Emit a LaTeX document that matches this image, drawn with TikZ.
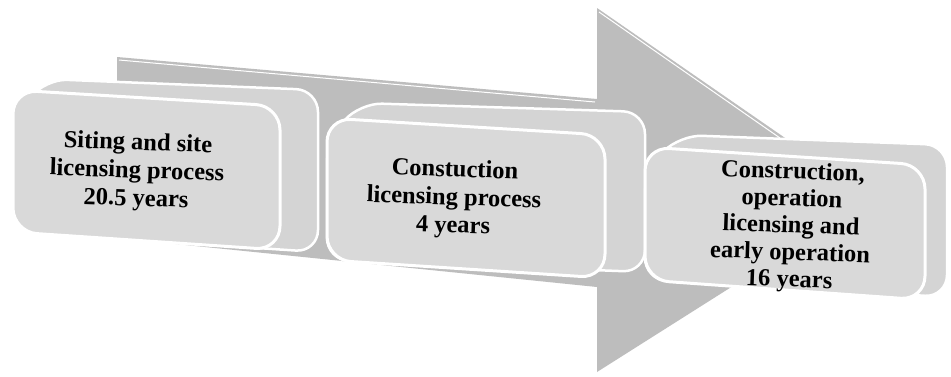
\documentclass[tikz,border=0pt]{standalone}
\usepackage{fontspec}
\setmainfont{Liberation Serif}
\usetikzlibrary{calc}
\definecolor{arrowgray}{HTML}{BDBDBD}
\definecolor{facegray}{HTML}{D9D9D9}
\definecolor{sidegray}{HTML}{D4D4D4}
\tikzset{
  hull/.style={fill=sidegray, draw=white, line width=2.5pt, rounded corners=22pt, line join=round},
  face/.style={fill=facegray, draw=white, line width=3pt, rounded corners=24pt},
  boxtext/.style={font=\bfseries\fontsize{24.5}{28}\selectfont, align=center, rotate=-2, inner sep=0pt},
  shine/.style={draw=white, line width=1pt}
}
\begin{document}
\begin{tikzpicture}[x=1pt,y=-1pt]
\useasboundingbox (0,0) rectangle (951,376);
\fill[white] (0,0) rectangle (951,376);
% big arrow
\coordinate (a1) at (117,57);
\coordinate (a2) at (597,99);
\coordinate (a3) at (597,8);
\coordinate (a4) at (872,198);
\coordinate (a5) at (597,372);
\coordinate (a6) at (597,287);
\coordinate (a7) at (117,238);
\fill[arrowgray] (a1) -- (a2) -- (a3) -- (a4) -- (a5) -- (a6) -- (a7) -- cycle;
\coordinate (s1) at (119,60);
\coordinate (s2) at (595,102);
\draw[shine] (s1) -- (s2);
\coordinate (s3) at (599,12);
\coordinate (s4) at (780,138);
\draw[shine] (s3) -- (s4);
% box 1
\coordinate (h11) at (13,120);
\coordinate (h12) at (45,79);
\coordinate (h13) at (318,90);
\coordinate (h14) at (318,252);
\coordinate (h15) at (13,232);
\draw[hull] ($(h12)!0.5!(h13)$) -- (h13) -- (h14) -- (h15) -- (h11) -- (h12) -- cycle;
\coordinate (f11) at (13,90);
\coordinate (f12) at (280,106);
\coordinate (f13) at (280,250);
\coordinate (f14) at (13,232);
\draw[face] ($(f11)!0.5!(f12)$) -- (f12) -- (f13) -- (f14) -- (f11) -- cycle;
\node[boxtext] (b1) at (137,172) {Siting and site\\licensing process\\20.5 years};
% box 2
\coordinate (h21) at (327,140);
\coordinate (h22) at (360,103);
\coordinate (h23) at (645,112);
\coordinate (h24) at (645,272);
\coordinate (h25) at (327,260);
\draw[hull] ($(h22)!0.5!(h23)$) -- (h23) -- (h24) -- (h25) -- (h21) -- (h22) -- cycle;
\coordinate (f21) at (327,118);
\coordinate (f22) at (605,135);
\coordinate (f23) at (605,278);
\coordinate (f24) at (327,260);
\draw[face] ($(f21)!0.5!(f22)$) -- (f22) -- (f23) -- (f24) -- (f21) -- cycle;
\node[boxtext] (b2) at (454,199) {Constuction\\licensing process\\4 years};
% box 3
\coordinate (h31) at (645,170);
\coordinate (h32) at (680,135);
\coordinate (h33) at (947,145);
\coordinate (h34) at (947,297);
\coordinate (h35) at (645,280);
\draw[hull] ($(h32)!0.5!(h33)$) -- (h33) -- (h34) -- (h35) -- (h31) -- (h32) -- cycle;
\coordinate (f31) at (645,147);
\coordinate (f32) at (925,165);
\coordinate (f33) at (925,300);
\coordinate (f34) at (645,280);
\draw[face] ($(f31)!0.5!(f32)$) -- (f32) -- (f33) -- (f34) -- (f31) -- cycle;
\node[boxtext, font=\bfseries\fontsize{24.5}{27}\selectfont] (b3) at (791,227) {Construction,\\operation\\licensing and\\early operation\\16 years};
\end{tikzpicture}
\end{document}
